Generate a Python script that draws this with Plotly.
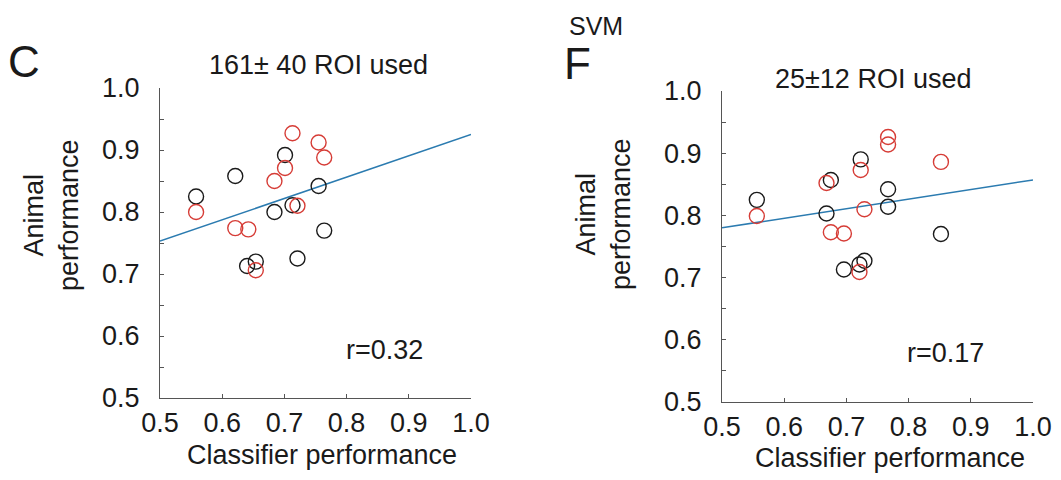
import plotly.graph_objects as go

W, H = 1061, 480

# Panel C: 161 +/- 40 ROIs
c_black_x = [0.558, 0.621, 0.701, 0.755, 0.684, 0.713, 0.764, 0.721, 0.640, 0.654]
c_black_y = [0.825, 0.858, 0.892, 0.842, 0.800, 0.811, 0.770, 0.725, 0.713, 0.720]
c_red_x = [0.558, 0.621, 0.642, 0.684, 0.701, 0.713, 0.755, 0.764, 0.721, 0.654]
c_red_y = [0.800, 0.774, 0.772, 0.850, 0.871, 0.927, 0.912, 0.888, 0.810, 0.706]
c_fit_x = [0.5, 1.0]
c_fit_y = [0.753, 0.925]

# Panel F: SVM, 25 +/- 12 ROIs
f_black_x = [0.556, 0.675, 0.723, 0.767, 0.668, 0.767, 0.852, 0.696, 0.721, 0.729]
f_black_y = [0.825, 0.857, 0.890, 0.842, 0.803, 0.814, 0.770, 0.713, 0.721, 0.727]
f_red_x = [0.556, 0.668, 0.675, 0.696, 0.723, 0.729, 0.721, 0.767, 0.767, 0.852]
f_red_y = [0.799, 0.852, 0.773, 0.771, 0.873, 0.810, 0.709, 0.926, 0.914, 0.886]
f_fit_x = [0.5, 1.0]
f_fit_y = [0.780, 0.857]

tick_vals = [0.5, 0.6, 0.7, 0.8, 0.9, 1.0]
tick_text = ["0.5", "0.6", "0.7", "0.8", "0.9", "1.0"]

FONT = "Liberation Sans, Arial, sans-serif"
BLACK = "#1a1a1a"
RED = "#d63c36"
BLUE = "#2b7bb0"
AXIS = "#555555"


def px(x):
    return x / W


def py(y):
    return 1 - y / H


fig = go.Figure()


def add_panel(bx, by, rx, ry, fx, fy, xa, ya):
    fig.add_trace(go.Scatter(x=fx, y=fy, mode="lines", line=dict(color=BLUE, width=1.5),
                             xaxis=xa, yaxis=ya, showlegend=False, hoverinfo="skip"))
    for xs, ys, col in ((bx, by, BLACK), (rx, ry, RED)):
        fig.add_trace(go.Scatter(x=xs, y=ys, mode="markers",
                                 marker=dict(symbol="circle-open", size=15, color=col,
                                             line=dict(width=1.4, color=col)),
                                 xaxis=xa, yaxis=ya, showlegend=False, cliponaxis=False))


add_panel(c_black_x, c_black_y, c_red_x, c_red_y, c_fit_x, c_fit_y, "x", "y")
add_panel(f_black_x, f_black_y, f_red_x, f_red_y, f_fit_x, f_fit_y, "x2", "y2")

common_x = dict(range=[0.5, 1.0], tickvals=tick_vals, ticktext=tick_text, ticks="inside",
                ticklen=4, tickcolor=AXIS, showline=True, linecolor=AXIS, linewidth=1.2,
                showgrid=False, zeroline=False, ticklabelstandoff=0, automargin=False,
                tickfont=dict(family=FONT, size=27, color=BLACK))
common_y = dict(range=[0.5, 1.0], tickvals=tick_vals, ticktext=tick_text, ticks="inside",
                ticklen=4, tickcolor=AXIS, showline=True, linecolor=AXIS, linewidth=1.2,
                showgrid=False, zeroline=False, ticklabelstandoff=14, automargin=False,
                minor=dict(tickvals=[0.55, 0.65, 0.75, 0.85, 0.95], ticks="inside",
                           ticklen=4, tickcolor=AXIS),
                tickfont=dict(family=FONT, size=27, color=BLACK))

fig.update_layout(
    width=W, height=H,
    margin=dict(l=0, r=0, t=0, b=0, pad=0, autoexpand=False),
    paper_bgcolor="white", plot_bgcolor="white",
    xaxis=dict(domain=[px(160), px(471)], anchor="y", **common_x),
    yaxis=dict(domain=[py(398), py(88)], anchor="x", **common_y),
    xaxis2=dict(domain=[px(722), px(1033)], anchor="y2", **common_x),
    yaxis2=dict(domain=[py(402), py(91)], anchor="x2", **common_y),
)

txt = dict(family=FONT, color=BLACK)
annotations = [
    # panel letters and heading
    dict(text="C", x=px(24), y=py(62), font=dict(size=44, **txt)),
    dict(text="F", x=px(577), y=py(64), font=dict(size=44, **txt)),
    dict(text="SVM", x=px(596), y=py(26), font=dict(size=25, **txt)),
    # panel titles
    dict(text="161\u00b1 40 ROI used", x=px(318), y=py(65), font=dict(size=27, **txt)),
    dict(text="25\u00b112 ROI used", x=px(873), y=py(79), font=dict(size=27, **txt)),
    # correlation values
    dict(text="r=0.32", x=px(384), y=py(350), font=dict(size=27, **txt)),
    dict(text="r=0.17", x=px(945), y=py(353), font=dict(size=27, **txt)),
    # x-axis titles
    dict(text="Classifier performance", x=px(322), y=py(455), font=dict(size=27, **txt)),
    dict(text="Classifier performance", x=px(890), y=py(458), font=dict(size=27, **txt)),
    # y-axis titles
    dict(text="Animal<br>performance", x=px(51), y=py(215), textangle=-90,
         font=dict(size=27, **txt)),
    dict(text="Animal<br>performance", x=px(603), y=py(214), textangle=-90,
         font=dict(size=27, **txt)),
]
for a in annotations:
    a.update(xref="paper", yref="paper", showarrow=False, xanchor="center", yanchor="middle")
fig.update_layout(annotations=annotations)

fig.write_html("out.html")
